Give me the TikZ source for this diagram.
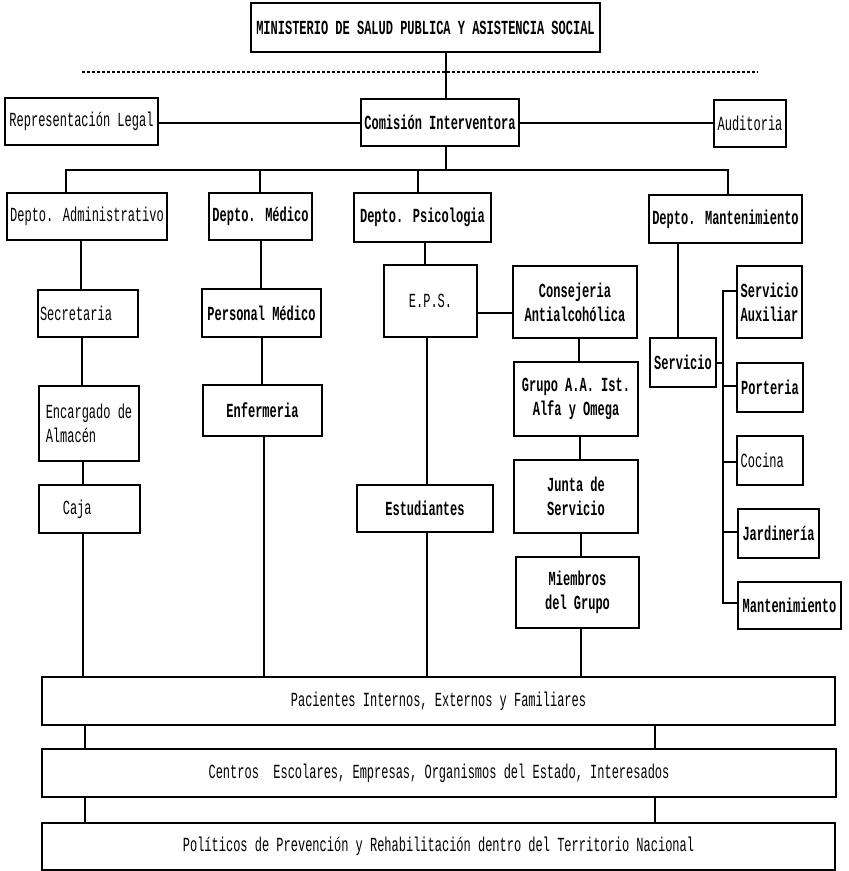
\documentclass[tikz,border=0pt]{standalone}
\usepackage{fontspec}
\setmainfont{Liberation Mono}[FakeStretch=0.6]
\begin{document}
\begin{tikzpicture}[x=0.75pt,y=-0.75pt,
  box/.style={draw, line width=1.2pt, inner sep=1pt, align=center, font=\fontsize{15}{18}\selectfont},
  bb/.style={box, font=\fontsize{15}{18}\selectfont\bfseries},
  sz/.style 2 args={minimum width=#1*0.75pt, minimum height=#2*0.75pt},
  ln/.style={line width=1pt},
  sep/.style={line width=0.9pt, dash pattern=on 2.25pt off 1.5pt}]
\useasboundingbox (0,0) rectangle (849,871);

% top level
\node[bb, sz={349}{49}] (min) at (425.5,27.5) {MINISTERIO DE SALUD PUBLICA Y ASISTENCIA SOCIAL};
\node[box, sz={153}{47}] (rep) at (81.5,121.5) {Representación Legal};
\node[bb, sz={158}{47}] (com) at (440,122.5) {Comisión Interventora};
\node[box, sz={72}{47}] (aud) at (750,123.5) {Auditoria};

% departments
\node[box, sz={160}{47}] (adm) at (87,216.5) {Depto. Administrativo};
\node[bb, sz={103}{47}] (med) at (260.5,216.5) {Depto. Médico};
\node[bb, sz={137}{49}] (psi) at (422.5,217.5) {Depto. Psicologia};
\node[bb, sz={153}{48}] (mnt) at (725.5,219) {Depto. Mantenimiento};

% administrative column
\node[box, sz={100}{47}] (sec) at (88,313.5) {\makebox[72pt][l]{Secretaria}};
\node[box, sz={100}{75}, align=left] (enc) at (89,423.5) {Encargado de\\Almacén};
\node[box, sz={101}{48}] (caja) at (89.5,509) {\makebox[72pt][l]{\hspace{16pt}Caja}};

% medical column
\node[bb, sz={119}{48}] (pm) at (261.5,313) {Personal Médico};
\node[bb, sz={119}{51}] (enf) at (262.5,410.5) {Enfermeria};

% psychology column
\node[box, sz={93}{72}] (eps) at (430.5,301) {E.P.S.};
\node[bb, sz={136}{47}] (est) at (425,508.5) {Estudiantes};
\node[bb, sz={124}{72}] (cons) at (575,302) {Consejeria\\Antialcohólica};
\node[bb, sz={124}{74}] (grp) at (576,399) {Grupo A.A. Ist.\\Alfa y Omega};
\node[bb, sz={124}{73}] (jun) at (576,496.5) {Junta de\\Servicio};
\node[bb, sz={123}{71}] (miem) at (577.5,592.5) {Miembros\\del Grupo};

% maintenance column
\node[bb, sz={66}{49}] (serv) at (683,362.5) {Servicio};
\node[bb, sz={65}{72}, align=left] (sa) at (769.5,302) {Servicio\\Auxiliar};
\node[bb, sz={66}{49}] (port) at (770,387.5) {Porteria};
\node[box, sz={66}{49}] (coc) at (770,460.5) {\makebox[44pt][l]{Cocina}};
\node[bb, sz={81}{49}] (jard) at (778.5,533.5) {Jardinería};
\node[bb, sz={103}{47}] (mant) at (789.5,605.5) {Mantenimiento};

% bottom bars
\node[box, sz={793}{48}] (pac) at (438.5,701) {Pacientes Internos, Externos y Familiares};
\node[box, sz={794}{48}] (cen) at (439,773) {Centros\ \ Escolares, Empresas, Organismos del Estado, Interesados};
\node[box, sz={793}{47}] (pol) at (438.5,846.5) {Políticos de Prevención y Rehabilitación dentro del Territorio Nacional};

% separator
\coordinate (sepL) at (82,72);
\coordinate (sepR) at (758,72);
\draw[sep] (sepL) -- (sepR);

% top connectors
\draw[ln] (min.south -| 446,0) -- (com.north -| 446,0);
\draw[ln] (rep.east |- 0,123) -- (com.west |- 0,123);
\draw[ln] (com.east |- 0,123) -- (aud.west |- 0,123);

% department bus
\coordinate (busL) at (66,170);
\coordinate (busR) at (728,170);
\draw[ln] (com.south -| 446,0) -- (busL -| 446,0);
\draw[ln] (adm.north -| busL) -- (busL) -- (busR) -- (mnt.north -| busR);
\draw[ln] (med.north -| 260,0) -- (busL -| 260,0);
\draw[ln] (psi.north -| 418,0) -- (busL -| 418,0);

% administrative
\draw[ln] (adm.south -| 81,0) -- (sec.north -| 81,0);
\draw[ln] (sec.south -| 82,0) -- (enc.north -| 82,0);
\draw[ln] (enc.south -| 83,0) -- (caja.north -| 83,0);
\draw[ln] (caja.south -| 83,0) -- (pac.north -| 83,0);

% medical
\draw[ln] (med.south -| 261,0) -- (pm.north -| 261,0);
\draw[ln] (pm.south -| 262,0) -- (enf.north -| 262,0);
\draw[ln] (enf.south -| 264,0) -- (pac.north -| 264,0);

% psychology
\draw[ln] (psi.south -| 425,0) -- (eps.north -| 425,0);
\draw[ln] (eps.south -| 427,0) -- (est.north -| 427,0);
\draw[ln] (est.south -| 427,0) -- (pac.north -| 427,0);
\draw[ln] (eps.east |- 0,313) -- (cons.west |- 0,313);
\draw[ln] (cons.south -| 579,0) -- (grp.north -| 579,0);
\draw[ln] (grp.south -| 580,0) -- (jun.north -| 580,0);
\draw[ln] (jun.south -| 581,0) -- (miem.north -| 581,0);
\draw[ln] (miem.south -| 581,0) -- (pac.north -| 581,0);

% maintenance
\coordinate (bt) at (723,291);
\coordinate (bb) at (723,603);
\draw[ln] (mnt.south -| 678,0) -- (serv.north -| 678,0);
\draw[ln] (sa.west |- bt) -- (bt) -- (bb) -- (mant.west |- bb);
\draw[ln] (serv.east |- 0,363) -- (bt |- 0,363);
\draw[ln] (port.west |- 0,386) -- (bt |- 0,386);
\draw[ln] (coc.west |- 0,462) -- (bt |- 0,462);
\draw[ln] (jard.west |- 0,532) -- (bt |- 0,532);

% bottom connectors
\draw[ln] (pac.south -| 85,0) -- (cen.north -| 85,0);
\draw[ln] (pac.south -| 655,0) -- (cen.north -| 655,0);
\draw[ln] (cen.south -| 85,0) -- (pol.north -| 85,0);
\draw[ln] (cen.south -| 655,0) -- (pol.north -| 655,0);
\end{tikzpicture}
\end{document}
